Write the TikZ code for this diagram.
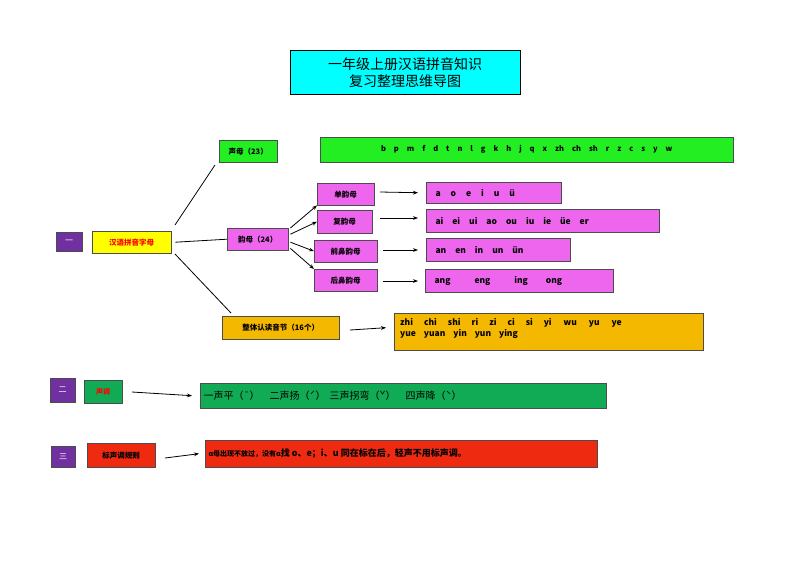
\documentclass[tikz,border=0pt]{standalone}
\usepackage{fontspec}
\setmainfont{Noto Sans CJK SC}
\usetikzlibrary{arrows.meta}
\definecolor{cy}{HTML}{00FFFF}
\definecolor{gr}{HTML}{22EE22}
\definecolor{vi}{HTML}{EE66EE}
\definecolor{or}{HTML}{F5B800}
\definecolor{gd}{HTML}{11AA55}
\definecolor{rd}{HTML}{EE2A11}
\definecolor{pu}{HTML}{7030A0}
\definecolor{ye}{HTML}{FFFF00}
\tikzset{
 bx/.style={draw=black!70, inner sep=0pt, font=\bfseries\fontsize{7.5}{9}\selectfont},
 ar/.style={-{Stealth[length=5pt]}, thick},
 ln/.style={thick}
}
\newcommand{\bxat}[6]{\node[bx,fill=#5,minimum width={#3-#1},minimum height={#4-#2},anchor=north west,align=left] (#6) at (#1,#2) {};}
\begin{document}
\begin{tikzpicture}[x=1pt,y=-1pt]
\useasboundingbox[fill=white] (0,0) rectangle (800,566);
% title
\node[draw, fill=cy, minimum width=230, minimum height=44, anchor=north west, inner sep=0pt, font=\fontsize{14}{17}\selectfont, align=center] (title) at (290,50) {一年级上册汉语拼音知识\\复习整理思维导图};
% level one
\bxat{56}{232}{82}{251}{pu}{n1} \node[text=white,font=\fontsize{8}{9}\selectfont] at (n1) {一};
\bxat{92}{231}{171}{253}{ye}{hy} \node[text=red,font=\bfseries\fontsize{7.5}{9}\selectfont] at (hy) {汉语拼音字母};
\bxat{219}{140}{277}{162}{gr}{sm} \node[font=\bfseries\fontsize{7.5}{9}\selectfont] at (sm) {声母（23）};
\bxat{320}{137}{733}{162}{gr}{smr} \node[font=\bfseries\fontsize{7.5}{9}\selectfont] at (smr) {b\hspace{8pt}p\hspace{8pt}m\hspace{8pt}f\hspace{8pt}d\hspace{8pt}t\hspace{8pt}n\hspace{8pt}l\hspace{8pt}g\hspace{8pt}k\hspace{8pt}h\hspace{8pt}j\hspace{8pt}q\hspace{8pt}x\hspace{8pt}zh\hspace{8pt}ch\hspace{8pt}sh\hspace{8pt}r\hspace{8pt}z\hspace{8pt}c\hspace{8pt}s\hspace{8pt}y\hspace{8pt}w};
\bxat{227}{228}{288}{250}{vi}{ym} \node[font=\bfseries\fontsize{7.5}{9}\selectfont] at (ym) {韵母（24）};
\bxat{317}{183}{374}{205}{vi}{d1} \node[font=\bfseries\fontsize{7.5}{9}\selectfont] at (d1) {单韵母};
\bxat{317}{210}{372}{233}{vi}{d2} \node[font=\bfseries\fontsize{7.5}{9}\selectfont] at (d2) {复韵母};
\bxat{314}{240}{377}{262}{vi}{d3} \node[font=\bfseries\fontsize{7.5}{9}\selectfont] at (d3) {前鼻韵母};
\bxat{314}{269}{377}{291}{vi}{d4} \node[font=\bfseries\fontsize{7.5}{9}\selectfont] at (d4) {后鼻韵母};
\bxat{426}{182}{561}{203}{vi}{r1} \node[anchor=west,font=\bfseries\fontsize{8.5}{9}\selectfont] at (r1.west) {\hspace{6pt}a\hspace{10pt}o\hspace{10pt}e\hspace{10pt}i\hspace{10pt}u\hspace{10pt}ü};
\bxat{426}{209}{659}{232}{vi}{r2} \node[anchor=west,font=\bfseries\fontsize{8.5}{9}\selectfont] at (r2.west) {\hspace{6pt}ai\hspace{9pt}ei\hspace{9pt}ui\hspace{9pt}ao\hspace{9pt}ou\hspace{9pt}iu\hspace{9pt}ie\hspace{9pt}üe\hspace{9pt}er};
\bxat{426}{238}{570}{261}{vi}{r3} \node[anchor=west,font=\bfseries\fontsize{8.5}{9}\selectfont] at (r3.west) {\hspace{6pt}an\hspace{9pt}en\hspace{9pt}in\hspace{9pt}un\hspace{9pt}ün};
\bxat{425}{269}{613}{292}{vi}{r4} \node[anchor=west,font=\bfseries\fontsize{8.5}{9}\selectfont] at (r4.west) {\hspace{6pt}ang\hspace{24pt}eng\hspace{24pt}ing\hspace{18pt}ong};
\bxat{222}{316}{339}{339}{or}{zt} \node[font=\bfseries\fontsize{7.5}{9}\selectfont] at (zt) {整体认读音节（16个）};
\bxat{394}{313}{703}{350}{or}{ztr}
\node[anchor=north west,font=\bfseries\fontsize{8.5}{11}\selectfont,align=left,inner sep=0pt] at (400,318) {zhi\hspace{11pt}chi\hspace{11pt}shi\hspace{11pt}ri\hspace{11pt}zi\hspace{11pt}ci\hspace{11pt}si\hspace{11pt}yi\hspace{12pt}wu\hspace{12pt}yu\hspace{12pt}ye\\yue\hspace{8pt}yuan\hspace{8pt}yin\hspace{8pt}yun\hspace{8pt}ying};
% level two
\bxat{50}{378}{75}{402}{pu}{n2} \node[text=white,font=\fontsize{8}{9}\selectfont] at (n2) {二};
\bxat{84}{380}{122}{403}{gd}{sd} \node[text=red,font=\bfseries\fontsize{7}{9}\selectfont] at (sd) {声调};
\bxat{200}{383}{606}{408}{gd}{sdr} \node[anchor=west,font=\fontsize{10}{12}\selectfont] at (sdr.west) {一声平（¯）\hspace{10pt}二声扬（ˊ）\hspace{4pt}三声拐弯（ˇ）\hspace{10pt}四声降（ˋ）};
% level three
\bxat{51}{446}{75}{467}{pu}{n3} \node[text=white,font=\fontsize{8}{9}\selectfont] at (n3) {三};
\bxat{87}{443}{155}{467}{rd}{bz} \node[font=\bfseries\fontsize{7.5}{9}\selectfont] at (bz) {标声调规则};
\bxat{205}{440}{597}{467}{rd}{bzr} \node[anchor=west,font=\bfseries\fontsize{8}{10}\selectfont] at (bzr.west) {\fontsize{7}{9}\selectfont ɑ母出现不放过，没有ɑ\fontsize{9}{10}\selectfont 找 o、e；i、u 同在标在后，轻声不用标声调。};
% connectors
\draw[ln] (175,225) -- (215,165);
\draw[ln] (hy.east) ++(4,0) -- (ym.west);
\draw[ln] (175,254) -- (231,313);
\draw[ar] (ym.north east) ++(2,0) -- (d1.south west);
\draw[ar] (ym.east) ++(2,-5) -- (d2.west);
\draw[ar] (ym.east) ++(2,3) -- (d3.west);
\draw[ar] (ym.south east) ++(2,-2) -- (d4.north west);
\draw[ar] (380,192) -- (r1.west -| 418,0);
\draw[ar] (380,218) -- (418,218);
\draw[ar] (383,250) -- (418,250);
\draw[ar] (383,281) -- (418,281);
\draw[ar] (350,330) -- (zt.east -| 386,0) ;
\draw[ar] (132,392) -- (sdr.west -| 192,0);
\draw[ar] (165,458) -- (bzr.west -| 199,0);
\end{tikzpicture}
\end{document}
